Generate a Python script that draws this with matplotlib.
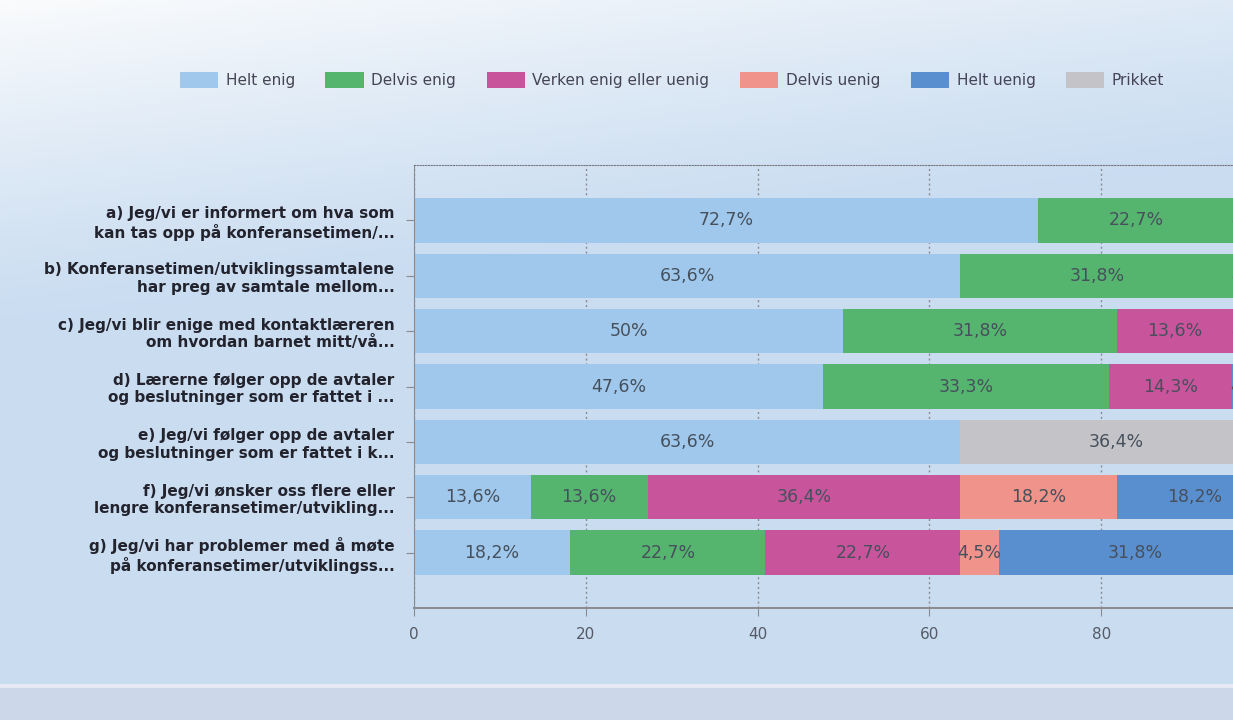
import matplotlib
matplotlib.use("Agg")
import matplotlib.pyplot as plt
import numpy as np
from matplotlib.patches import Patch

categories = [
    "a) Jeg/vi er informert om hva som\nkan tas opp på konferansetimen/...",
    "b) Konferansetimen/utviklingssamtalene\nhar preg av samtale mellom...",
    "c) Jeg/vi blir enige med kontaktlæreren\nom hvordan barnet mitt/vå...",
    "d) Lærerne følger opp de avtaler\nog beslutninger som er fattet i ...",
    "e) Jeg/vi følger opp de avtaler\nog beslutninger som er fattet i k...",
    "f) Jeg/vi ønsker oss flere eller\nlengre konferansetimer/utvikling...",
    "g) Jeg/vi har problemer med å møte\npå konferansetimer/utviklingss...",
]
series_names = ["Helt enig", "Delvis enig", "Verken enig eller uenig",
                "Delvis uenig", "Helt uenig", "Prikket"]
helt_enig    = [72.7, 63.6, 50.0, 47.6, 63.6, 13.6, 18.2]
delvis_enig  = [22.7, 31.8, 31.8, 33.3, 0.0, 13.6, 22.7]
verken       = [4.5, 0.0, 13.6, 14.3, 0.0, 36.4, 22.7]
delvis_uenig = [0.0, 0.0, 0.0, 0.0, 0.0, 18.2, 4.5]
helt_uenig   = [0.0, 4.5, 4.5, 4.8, 0.0, 18.2, 31.8]
prikket      = [0.0, 0.0, 0.0, 0.0, 36.4, 0.0, 0.0]
xticks = [0, 20, 40, 60, 80, 100]

colors = ["#9fc8ec", "#55b56f", "#c8559b", "#f0938b", "#5a8fcf", "#c4c4c8"]
series = [helt_enig, delvis_enig, verken, delvis_uenig, helt_uenig, prikket]

W, H = 1233, 720
fig = plt.figure(figsize=(W / 100, H / 100), dpi=100)
fig.patch.set_facecolor("#c9dcf0")

# background gradient (whitish top-left, light blue elsewhere)
bg = fig.add_axes([0, 0, 1, 1], zorder=-10)
yy, xx = np.mgrid[0:1:200j, 0:1:300j]
g = np.clip(1.0 - yy * 2.2 - xx * 0.5, 0, 1) ** 1.2
top = np.array([0.98, 0.985, 0.99])
base = np.array([0.79, 0.865, 0.945])
img = base[None, None, :] * (1 - g[..., None]) + top[None, None, :] * g[..., None]
img[yy > 0.955] = np.array([0.80, 0.85, 0.92])
img[(yy > 0.95) & (yy <= 0.955)] = np.array([0.90, 0.92, 0.96])
bg.imshow(img, extent=[0, 1, 0, 1], aspect="auto", origin="upper")
bg.axis("off")

left_px, right_px = 414, 414 + 100 * 8.59
top_px, bot_px = 165, 608
ax = fig.add_axes([left_px / W, 1 - bot_px / H,
                   (right_px - left_px) / W, (bot_px - top_px) / H])
ax.set_facecolor("none")

y = np.arange(len(categories))
left = np.zeros(len(categories))
for name, vals, col in zip(series_names, series, colors):
    vals = np.array(vals)
    ax.barh(y, vals, left=left, height=0.8, color=col, label=name,
            edgecolor="none", zorder=2)
    for yi, (l, v) in enumerate(zip(left, vals)):
        if v >= 4:
            txt = (f"{v:.1f}".rstrip("0").rstrip(".") + "%").replace(".", ",")
            ax.text(l + v / 2, yi, txt, ha="center", va="center",
                    fontsize=12.5, color="#46505c", zorder=3)
    left = left + vals

ax.set_xlim(0, 100)
ax.set_ylim(len(categories), -1)
ax.set_yticks(y)
ax.set_yticklabels(categories, fontsize=11, fontweight="bold",
                   color="#23232e", linespacing=1.2)
ax.set_xticks(xticks)
ax.set_xticklabels([str(t) for t in xticks], fontsize=11, color="#555a66")
ax.tick_params(axis="y", length=6, color="#8a8a90", pad=8)
ax.tick_params(axis="x", length=6, color="#8a8a90", pad=8)
ax.grid(axis="x", linestyle=(0, (1.5, 2)), color="#8c8c94", linewidth=1,
        zorder=0)
ax.spines["right"].set_visible(False)
ax.spines["top"].set_linestyle((0, (1, 1.5)))
ax.spines["top"].set_color("#777780")
ax.spines["left"].set_color("#8a8a90")
ax.spines["bottom"].set_color("#8a8a90")
ax.spines["bottom"].set_linewidth(1.4)

handles = [Patch(facecolor=c, edgecolor="none", label=n)
           for n, c in zip(series_names, colors)]
fig.legend(handles=handles, loc="center", bbox_to_anchor=(0.545, 1 - 80 / H),
           ncol=6, frameon=False, fontsize=11, handlelength=2.5,
           handleheight=1.2, columnspacing=2.0, handletextpad=0.5,
           labelcolor="#444455")

fig.savefig("out.png", dpi=100, facecolor=fig.get_facecolor())
